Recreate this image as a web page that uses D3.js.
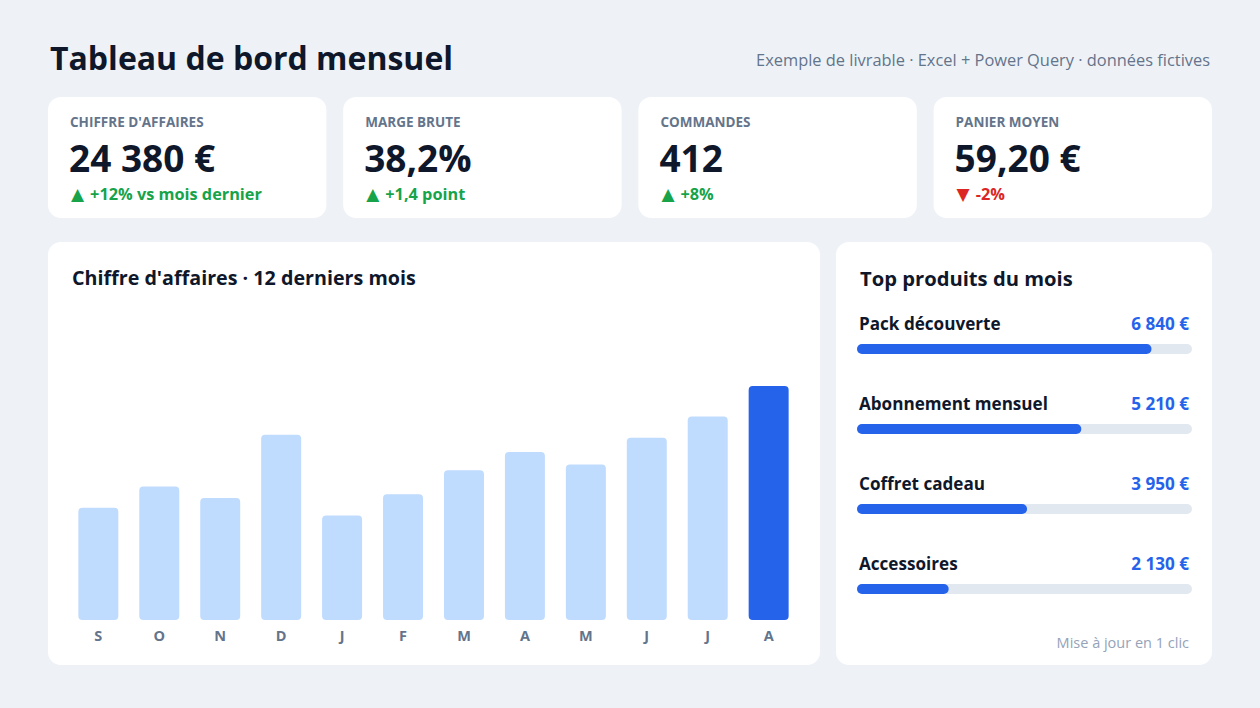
<!DOCTYPE html>
<html>
<head>
<meta charset="utf-8">
<script src="https://cdn.jsdelivr.net/npm/d3@7"></script>
<style>
  body { margin: 0; background: #eef2f7; }
  svg { display: block; font-family: "Open Sans", "Noto Sans", sans-serif; }
</style>
</head>
<body>
<div id="dash"></div>
<script>
// KPI cards
const kpiLabels = ["CHIFFRE D'AFFAIRES", 'MARGE BRUTE', 'COMMANDES', 'PANIER MOYEN'];
const kpiValues = ['24 380 €', '38,2%', '412', '59,20 €'];
const kpiDeltas = ['+12% vs mois dernier', '+1,4 point', '+8%', '-2%'];
const kpiUp = [true, true, true, false];

// Monthly revenue, last 12 months
const months = ['S', 'O', 'N', 'D', 'J', 'F', 'M', 'A', 'M', 'J', 'J', 'A'];
const revenue = [11700, 13900, 12700, 19300, 10900, 13100, 15600, 17500, 16200, 19000, 21200, 24380];

// Top products
const products = ['Pack découverte', 'Abonnement mensuel', 'Coffret cadeau', 'Accessoires'];
const productSales = [6840, 5210, 3950, 2130];

const W = 1260, H = 708;
const fmt = d => d3.format(',')(d).replace(/,/g, ' ') + ' €';

const svg = d3.select('#dash').append('svg')
  .attr('width', W)
  .attr('height', H);

svg.append('rect').attr('width', W).attr('height', H).attr('fill', '#eef2f7');

// Header
svg.append('text')
  .attr('x', 50).attr('y', 70)
  .style('font-size', '32px').style('font-weight', 700)
  .attr('fill', '#0f172a')
  .text('Tableau de bord mensuel');

svg.append('text')
  .attr('x', 1210).attr('y', 66)
  .attr('text-anchor', 'end')
  .style('font-size', '16.4px')
  .attr('fill', '#64748b')
  .text('Exemple de livrable · Excel + Power Query · données fictives');

// KPI row
const kpiX = d3.scaleBand().domain(d3.range(4)).range([48, 1212]).paddingInner(0.057);

const kpi = svg.selectAll('.kpi')
  .data(d3.range(4))
  .enter().append('g')
  .attr('class', 'kpi')
  .attr('transform', i => `translate(${kpiX(i)},97)`);

kpi.append('rect')
  .attr('width', kpiX.bandwidth()).attr('height', 121)
  .attr('rx', 13).attr('fill', '#fff');

kpi.append('text')
  .attr('x', 22).attr('y', 30)
  .style('font-size', '13.5px').style('font-weight', 700)
  .attr('fill', '#64748b')
  .text(i => kpiLabels[i]);

kpi.append('text')
  .attr('x', 21).attr('y', 75)
  .style('font-size', '37px').style('font-weight', 700)
  .attr('fill', '#0f172a')
  .text(i => kpiValues[i]);

const delta = kpi.append('text')
  .attr('x', 23).attr('y', 103)
  .style('font-size', '16.3px').style('font-weight', 700)
  .attr('fill', i => kpiUp[i] ? '#16a34a' : '#dc2626');

delta.append('tspan')
  .style('font-family', '"DejaVu Sans", sans-serif')
  .style('font-size', '17px')
  .text(i => kpiUp[i] ? '▲' : '▼');

delta.append('tspan')
  .attr('dx', 6)
  .text(i => kpiDeltas[i]);

// Revenue card
const chart = svg.append('g');
chart.append('rect')
  .attr('x', 48).attr('y', 242).attr('width', 772).attr('height', 423)
  .attr('rx', 13).attr('fill', '#fff');

chart.append('text')
  .attr('x', 72).attr('y', 285)
  .style('font-size', '19.7px').style('font-weight', 700)
  .attr('fill', '#0f172a')
  .text("Chiffre d'affaires · 12 derniers mois");

const x = d3.scaleBand()
  .domain(d3.range(months.length))
  .range([68, 799])
  .paddingInner(0.344)
  .paddingOuter(0.17);

const y = d3.scaleLinear()
  .domain([0, d3.max(revenue)])
  .range([620, 386]);

chart.selectAll('.bar')
  .data(revenue)
  .enter().append('rect')
  .attr('class', 'bar')
  .attr('x', (d, i) => x(i))
  .attr('y', d => y(d))
  .attr('width', x.bandwidth())
  .attr('height', d => y(0) - y(d))
  .attr('rx', 4)
  .attr('fill', (d, i) => i === revenue.length - 1 ? '#2563eb' : '#bfdbfe');

const xAxis = d3.axisBottom(x)
  .tickFormat(i => months[i])
  .tickSize(0)
  .tickPadding(0);

chart.append('g')
  .attr('transform', 'translate(0,631)')
  .call(xAxis)
  .call(g => g.select('.domain').remove())
  .call(g => g.selectAll('text')
    .attr('dy', '0.71em')
    .style('font-family', '"Open Sans", sans-serif')
    .style('font-size', '14.5px').style('font-weight', 700)
    .attr('fill', '#64748b'));

// Top products card
const topCard = svg.append('g');
topCard.append('rect')
  .attr('x', 836).attr('y', 242).attr('width', 376).attr('height', 423)
  .attr('rx', 13).attr('fill', '#fff');

topCard.append('text')
  .attr('x', 860).attr('y', 286)
  .style('font-size', '20.2px').style('font-weight', 700)
  .attr('fill', '#0f172a')
  .text('Top produits du mois');

const rowY = d3.scalePoint().domain(d3.range(products.length)).range([330, 570]);
const px = d3.scaleLinear().domain([0, 7780]).range([857, 1192]);

const row = topCard.selectAll('.row')
  .data(products)
  .enter().append('g')
  .attr('class', 'row')
  .attr('transform', (d, i) => `translate(0,${rowY(i)})`);

row.append('text')
  .attr('x', 859).attr('y', 0)
  .style('font-size', '17.1px').style('font-weight', 700)
  .attr('fill', '#0f172a')
  .text(d => d);

row.append('text')
  .attr('x', 1189).attr('y', 0)
  .attr('text-anchor', 'end')
  .style('font-size', '17.1px').style('font-weight', 700)
  .attr('fill', '#2563eb')
  .text((d, i) => fmt(productSales[i]));

row.append('rect')
  .attr('x', px(0)).attr('y', 14)
  .attr('width', px.range()[1] - px(0)).attr('height', 10)
  .attr('rx', 5).attr('fill', '#e2e8f0');

row.append('rect')
  .attr('x', px(0)).attr('y', 14)
  .attr('width', (d, i) => px(productSales[i]) - px(0)).attr('height', 10)
  .attr('rx', 5).attr('fill', '#2563eb');

topCard.append('text')
  .attr('x', 1189).attr('y', 648)
  .attr('text-anchor', 'end')
  .style('font-size', '14.5px')
  .attr('fill', '#94a3b8')
  .text('Mise à jour en 1 clic');
</script>
</body>
</html>
